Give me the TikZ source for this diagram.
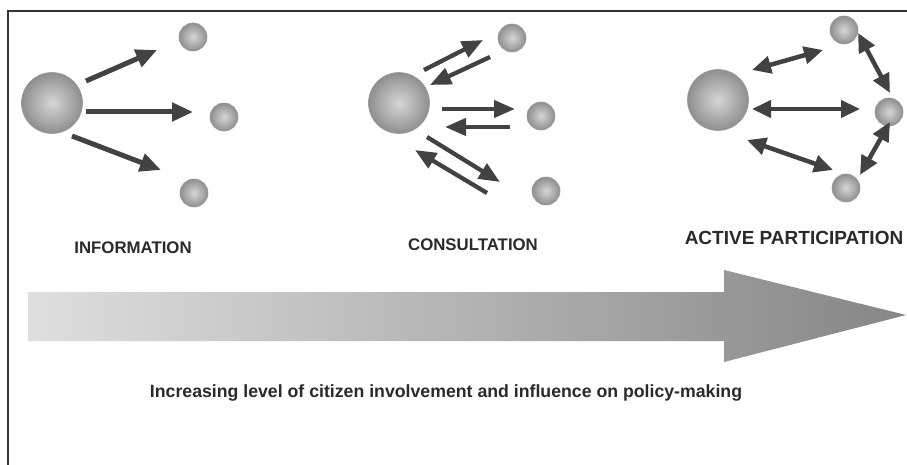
\documentclass[tikz,border=0pt]{standalone}
\usepackage{fontspec}
\setmainfont{Liberation Sans}
\usetikzlibrary{arrows.meta,calc}
\definecolor{arrcol}{HTML}{424242}
\definecolor{txtcol}{HTML}{2A2A2A}
\begin{document}
\begin{tikzpicture}[x=1pt,y=-1pt,
  ball/.style={circle,inner sep=0pt,inner color=gray!32,outer color=gray!88,draw=gray!80,line width=0.6pt},
  bigball/.style={ball,minimum size=61pt},
  smallball/.style={ball,minimum size=28pt},
  infoarr/.style={draw=arrcol,line width=5pt,-{Triangle[length=21pt,width=18pt]}},
  conarr/.style={draw=arrcol,line width=4.3pt,-{Triangle[length=21pt,width=17pt]}},
  actarr/.style={draw=arrcol,line width=4.5pt,{Triangle[length=19pt,width=17pt]}-{Triangle[length=19pt,width=17pt]}},
  lab/.style={text=txtcol,font=\bfseries\fontsize{16.8}{19}\selectfont},
  caption/.style={text=txtcol,font=\bfseries\fontsize{17.7}{20}\selectfont}
]
\useasboundingbox (0,0) rectangle (907,465);
\fill[white] (0,0) rectangle (907,465);
% frame
\draw[line width=1.4pt,black!80] (8,465) -- (8,11) -- (907,11);

% big progress arrow
\shade[left color=gray!25,right color=gray!95] (28,292) -- (724,292) -- (724,270) -- (906,315) -- (724,362) -- (724,341) -- (28,341) -- cycle;

% INFORMATION
\node[bigball] (I) at (52,103) {};
\node[smallball] (i1) at (193,37) {};
\node[smallball] (i2) at (224,117) {};
\node[smallball] (i3) at (194,193) {};
\draw[infoarr] ($(I)+(34,-22)$) -- ($(i1)+(-36,13)$);
\draw[infoarr] ($(I)+(34,9)$) -- ($(i2)+(-31,-5)$);
\draw[infoarr] ($(I)+(20,33)$) -- ($(i3)+(-33,-23)$);
\node[lab] (tI) at (133,248) {INFORMATION};

% CONSULTATION
\node[bigball] (C) at (399,103) {};
\node[smallball] (c1) at (512,38) {};
\node[smallball] (c2) at (541,116) {};
\node[smallball] (c3) at (546,191) {};
\draw[conarr] ($(C)+(25,-33)$) -- ($(c1)+(-29,2)$);
\draw[conarr] ($(c1)+(-22,19)$) -- ($(C)+(31,-18)$);
\draw[conarr] ($(C)+(43,6)$) -- ($(c2)+(-26,-7)$);
\draw[conarr] ($(c2)+(-31,11)$) -- ($(C)+(46,24)$);
\draw[conarr] ($(C)+(28,34)$) -- ($(c3)+(-46,-9)$);
\draw[conarr] ($(c3)+(-59,2)$) -- ($(C)+(16,47)$);
\node[lab] (tC) at (473,245) {CONSULTATION};

% ACTIVE PARTICIPATION
\node[bigball] (A) at (718,100) {};
\node[smallball] (p1) at (844,30) {};
\node[smallball] (p2) at (889,112) {};
\node[smallball] (p3) at (846,188) {};
\draw[actarr] ($(A)+(34,-30)$) -- ($(p1)+(-21,20)$);
\draw[actarr] ($(A)+(34,9)$) -- ($(p2)+(-29,-3)$);
\draw[actarr] ($(A)+(29,40)$) -- ($(p3)+(-13,-18)$);
\draw[actarr] ($(p1)+(14,3)$) -- ($(p2)+(1,-19)$);
\draw[actarr] ($(p2)+(1,10)$) -- ($(p3)+(14,-13)$);
\node[lab,font=\bfseries\fontsize{19}{21}\selectfont] (tA) at (794,238) {ACTIVE PARTICIPATION};

% caption
\node[caption] (cap) at (446,393) {Increasing level of citizen involvement and influence on policy-making};
\end{tikzpicture}
\end{document}
